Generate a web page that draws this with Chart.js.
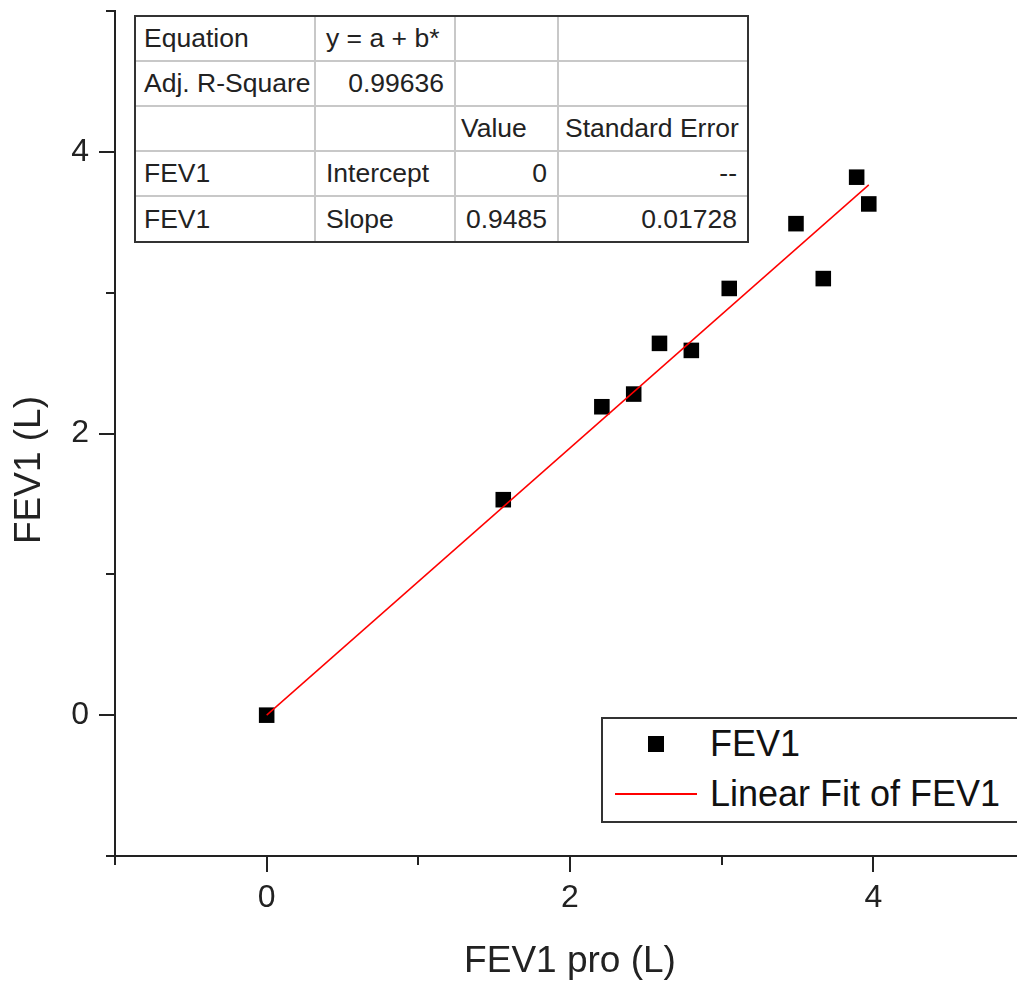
<!DOCTYPE html>
<html>
<head>
<meta charset="utf-8">
<title>FEV1 vs FEV1 pro</title>
<script src="https://cdn.jsdelivr.net/npm/chart.js@4/dist/chart.umd.min.js"></script>
<style>
  html, body { margin: 0; padding: 0; background: #fff; overflow: hidden; }
  #wrap { position: relative; width: 1017px; height: 987px; overflow: hidden; }
  #plot { position: absolute; left: 0; top: 0; }

  /* fit results table, top left of the plot */
  .fit-table {
    position: absolute; left: 134px; top: 15px;
    width: 615px; table-layout: fixed;
    border-collapse: separate; border-spacing: 0;
    border: 2px solid #333; background: #fff;
    font: 26.5px "Liberation Sans", Arial, sans-serif; color: #222;
  }
  .fit-table td {
    box-sizing: border-box; height: 45px; padding: 0 8px;
    border-right: 2px solid #c8c8c8; border-bottom: 2px solid #c8c8c8;
    white-space: nowrap; line-height: 1;
  }
  .fit-table td:last-child { border-right: none; }
  .fit-table tr:last-child td { border-bottom: none; height: 44px; }
  .fit-table td.r { text-align: right; padding-right: 10px; }
  .fit-table td.c2 { padding-left: 10px; }
  .fit-table td.c3 { padding-left: 5px; }
  .fit-table td.c4 { padding-left: 6px; }

  /* legend box, bottom right (its right edge runs off the page) */
  #legend {
    position: absolute; left: 601px; top: 717px;
    width: 440px; height: 106px; box-sizing: border-box;
    border: 2px solid #333; background: #fff;
    font: 36px "Liberation Sans", Arial, sans-serif; color: #111;
  }
  .lg-item { position: absolute; left: 12px; height: 48px; display: flex; align-items: center; }
  .lg-swatch { width: 82px; height: 48px; position: relative; }
  .lg-swatch span { position: absolute; }
  .lg-text { margin-left: 13px; white-space: nowrap; }
</style>
</head>
<body>
<div id="wrap">
  <canvas id="plot" width="1060" height="987"></canvas>
  <table class="fit-table" id="fitTable">
    <colgroup><col style="width:180px"><col style="width:140px"><col style="width:103px"><col style="width:188px"></colgroup>
    <tbody></tbody>
  </table>
  <div id="legend"></div>
</div>
<script>
// measured FEV1 (L) against FEV1 pro (L)
const fevPro = [0, 1.56, 2.21, 2.42, 2.59, 2.80, 3.05, 3.49, 3.67, 3.89, 3.97];
const fev    = [0, 1.53, 2.19, 2.28, 2.64, 2.59, 3.03, 3.49, 3.10, 3.82, 3.63];

// linear fit results
const fitIntercept = 0;
const fitSlope = 0.9485;

const xTicks = [-1, 0, 1, 2, 3, 4, 5];
const yTicks = [-1, 0, 1, 2, 3, 4, 5];

// table cells: [text, css class]
const tableRows = [
  [['Equation', ''], ['y = a + b*', 'c2'], ['', 'c3'], ['', 'c4']],
  [['Adj. R-Square', ''], ['0.99636', 'r'], ['', 'c3'], ['', 'c4']],
  [['', ''], ['', 'c2'], ['Value', 'c3'], ['Standard Error', 'c4']],
  [['FEV1', ''], ['Intercept', 'c2'], ['0', 'r'], ['--', 'r']],
  [['FEV1', ''], ['Slope', 'c2'], ['0.9485', 'r'], ['0.01728', 'r']]
];

const tbody = document.querySelector('#fitTable tbody');
tableRows.forEach(row => {
  const tr = document.createElement('tr');
  row.forEach(([text, cls]) => {
    const td = document.createElement('td');
    td.textContent = text;
    if (cls) td.className = cls;
    tr.appendChild(td);
  });
  tbody.appendChild(tr);
});

const points = fevPro.map((x, i) => ({ x: x, y: fev[i] }));
const xMin = Math.min(...fevPro), xMax = Math.max(...fevPro);
const fitLine = [
  { x: xMin, y: fitIntercept + fitSlope * xMin },
  { x: xMax, y: fitIntercept + fitSlope * xMax }
];

const FONT = '"Liberation Sans", Arial, sans-serif';
const INK = '#222';
const PLOT_RIGHT = 1025; // x = 5 sits just past the page edge

// outward tick marks: long on even values, short on odd ones
const tickMarks = {
  id: 'tickMarks',
  afterDraw(chart) {
    const { ctx, scales: { x, y }, chartArea } = chart;
    ctx.save();
    ctx.strokeStyle = INK;
    ctx.lineWidth = 2;
    ctx.beginPath();
    xTicks.forEach(v => {
      const px = Math.round(x.getPixelForValue(v));
      const len = v % 2 === 0 ? 16 : 9;
      ctx.moveTo(px, chartArea.bottom);
      ctx.lineTo(px, chartArea.bottom + len);
    });
    yTicks.forEach(v => {
      const py = Math.round(y.getPixelForValue(v));
      const len = v % 2 === 0 ? 16 : 9;
      ctx.moveTo(chartArea.left, py);
      ctx.lineTo(chartArea.left - len, py);
    });
    ctx.stroke();

    // vertical axis title
    ctx.fillStyle = INK;
    ctx.font = '37px ' + FONT;
    ctx.textAlign = 'center';
    ctx.textBaseline = 'middle';
    ctx.translate(30, 470);
    ctx.rotate(-Math.PI / 2);
    ctx.fillText('FEV1 (L)', 0, 0);
    ctx.restore();
  }
};

// legend built from the datasets into the html box
const htmlLegend = {
  id: 'htmlLegend',
  afterUpdate(chart) {
    const box = document.getElementById('legend');
    box.innerHTML = '';
    chart.data.datasets.forEach((ds, i) => {
      const item = document.createElement('div');
      item.className = 'lg-item';
      item.style.top = (1 + i * 50) + 'px';
      const sw = document.createElement('div');
      sw.className = 'lg-swatch';
      const mark = document.createElement('span');
      if (ds.showLine) {
        mark.style.cssText = 'left:0;top:23px;width:82px;height:2px;background:' + ds.borderColor;
      } else {
        mark.style.cssText = 'left:33px;top:16px;width:16px;height:16px;background:' + ds.backgroundColor;
      }
      sw.appendChild(mark);
      const txt = document.createElement('span');
      txt.className = 'lg-text';
      txt.textContent = ds.label;
      item.appendChild(sw);
      item.appendChild(txt);
      box.appendChild(item);
    });
  }
};

const evenLabel = v => (v % 2 === 0 ? String(v) : '');

// keep the plot box fixed: no extra room reserved for end labels
const noEndPadding = s => {
  s.paddingLeft = 0; s.paddingRight = 0;
  s.paddingTop = 0; s.paddingBottom = 0;
};

const chart = new Chart(document.getElementById('plot'), {
  type: 'scatter',
  data: {
    datasets: [
      {
        label: 'FEV1',
        data: points,
        pointStyle: 'rect',
        pointRadius: 11,
        pointHoverRadius: 11,
        backgroundColor: '#000',
        borderColor: '#000',
        borderWidth: 0,
        order: 1
      },
      {
        label: 'Linear Fit of FEV1',
        data: fitLine,
        showLine: true,
        borderColor: '#ff0000',
        borderWidth: 1.5,
        pointRadius: 0,
        pointHoverRadius: 0,
        order: 0
      }
    ]
  },
  options: {
    responsive: false,
    animation: false,
    layout: { padding: { top: 10, left: 0, bottom: 0, right: 35 } },
    plugins: {
      legend: { display: false },
      tooltip: { enabled: false }
    },
    scales: {
      x: {
        type: 'linear',
        min: -1, max: 5,
        afterBuildTicks: s => { s.ticks = xTicks.map(v => ({ value: v })); },
        afterFit: s => { s.height = 131; noEndPadding(s); },
        grid: { display: false, drawTicks: false },
        border: { display: true, color: INK, width: 2 },
        ticks: { callback: evenLabel, padding: 23, color: INK, font: { family: FONT, size: 32 }, maxRotation: 0, autoSkip: false },
        title: { display: true, text: 'FEV1 pro (L)', color: INK, font: { family: FONT, size: 37 }, padding: { top: 0, bottom: 3 } }
      },
      y: {
        type: 'linear',
        min: -1, max: 5,
        afterBuildTicks: s => { s.ticks = yTicks.map(v => ({ value: v })); },
        afterFit: s => { s.width = 115; noEndPadding(s); },
        grid: { display: false, drawTicks: false },
        border: { display: true, color: INK, width: 2 },
        ticks: { callback: evenLabel, padding: 26, color: INK, font: { family: FONT, size: 32 }, autoSkip: false }
      }
    }
  },
  plugins: [tickMarks, htmlLegend]
});

// nudge the right padding so the x axis ends where it should
const drift = chart.chartArea.right - PLOT_RIGHT;
if (Math.abs(drift) > 0.5) {
  chart.options.layout.padding.right += drift;
  chart.update();
}
</script>
</body>
</html>
